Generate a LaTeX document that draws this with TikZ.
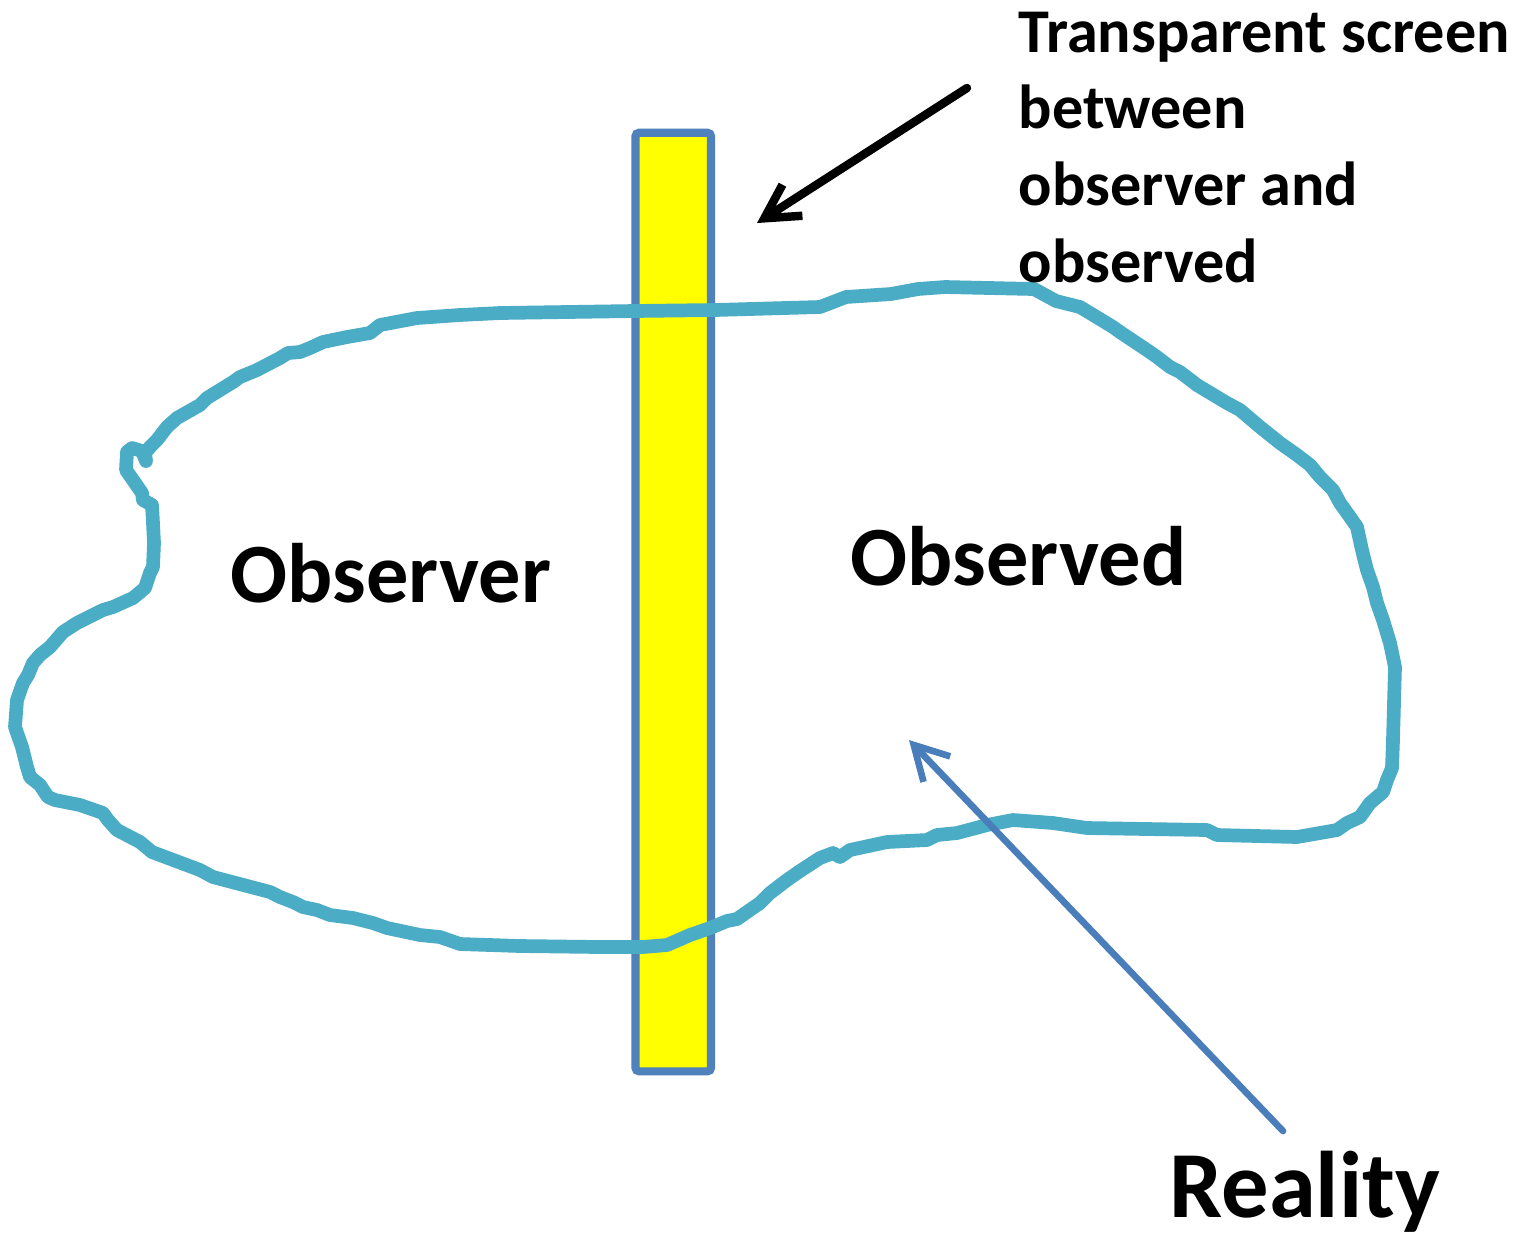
\documentclass[tikz,border=0pt]{standalone}
\usepackage{fontspec}
\setmainfont{Carlito}
\usetikzlibrary{arrows.meta}
\definecolor{blobc}{HTML}{4BACC6}
\definecolor{edgeblue}{HTML}{4F81BD}
\definecolor{arrblue}{HTML}{4A7EBB}
\definecolor{screenyellow}{RGB}{255,255,0}
\begin{document}
\begin{tikzpicture}[x=0.01cm,y=-0.01cm,
  screenbox/.style={draw=edgeblue, fill=screenyellow, line width=2.3pt, rounded corners=1pt, inner sep=0pt,
    minimum width=0.755cm, minimum height=9.38cm},
  blobline/.style={draw=blobc, line width=3.9pt, line join=round, line cap=round},
  biglbl/.style={font=\bfseries\fontsize{24pt}{29pt}\selectfont, inner sep=0pt, anchor=base west},
  notelbl/.style={font=\bfseries\fontsize{17.7pt}{21.8pt}\selectfont, inner sep=0pt, anchor=base west, align=left},
  ptr/.style={-{Straight Barb[length=9.5pt,width=10.5pt]}, line cap=round, line join=round}]
\useasboundingbox (0,0) rectangle (1527,1232);
\fill[white] (0,0) rectangle (1527,1232);

% transparent screen
\node[screenbox] (screen) at (673.25,602) {};

% reality outline
\draw[blobline] (145,453) -- (150,447) -- (157,440) -- (167,427) -- (177,418) -- (200,405) -- (207,398)
 -- (233,382) -- (240,377) -- (257,370) -- (280,358) -- (288,353) -- (300,352) -- (310,348) -- (323,342)
 -- (347,337) -- (370,333) -- (380,325) -- (417,318) -- (460,315) -- (500,313) -- (634,311) -- (715,310)
 -- (820,307) -- (846,297) -- (891,294) -- (918,289) -- (945,287) -- (1034,289) -- (1056,301) -- (1080,307)
 -- (1113,327) -- (1120,332) -- (1147,350) -- (1157,357) -- (1170,367) -- (1180,372) -- (1197,385)
 -- (1227,403) -- (1240,410) -- (1260,427) -- (1280,443) -- (1297,455) -- (1310,465) -- (1320,477)
 -- (1333,490) -- (1340,503) -- (1350,517) -- (1357,527) -- (1362,550) -- (1367,570) -- (1373,587)
 -- (1377,603) -- (1383,620) -- (1390,643) -- (1395,667) -- (1393,740) -- (1392,768) -- (1387,780)
 -- (1383,792) -- (1370,803) -- (1360,817) -- (1347,823) -- (1337,830) -- (1297,837) -- (1217,835)
 -- (1207,830) -- (1087,828) -- (1053,823) -- (1013,820) -- (987,825) -- (957,833) -- (937,835)
 -- (927,840) -- (887,842) -- (850,850) -- (840,857) -- (833,853) -- (820,858) -- (800,871) -- (787,880)
 -- (770,893) -- (760,903) -- (747,912) -- (737,919) -- (727,921) -- (710,928) -- (690,935) -- (667,945)
 -- (643,947) -- (600,947) -- (520,946) -- (460,944) -- (440,937) -- (420,935) -- (387,928) -- (373,923)
 -- (353,918) -- (330,915) -- (317,910) -- (303,907) -- (293,902) -- (280,897) -- (270,892) -- (213,877)
 -- (200,870) -- (152,852) -- (140,842) -- (117,830) -- (108,820) -- (103,813) -- (80,805) -- (55,800)
 -- (48,797) -- (40,785) -- (30,777) -- (27,767) -- (22,747) -- (15,727) -- (17,700) -- (23,683)
 -- (28,675) -- (33,663) -- (40,655) -- (50,647) -- (63,632) -- (77,623) -- (87,618) -- (103,610)
 -- (113,607) -- (133,598) -- (145,588) -- (150,573) -- (153,567) -- (154,543) -- (153,523) -- (152,505)
 -- (143,500) -- (142,493) -- (133,480) -- (126,470) -- (127,452) -- (132,448) -- (142,451) -- (146,461)
 -- cycle;

% labels
\node[biglbl] (observer) at (230,602) {Observer};
\node[biglbl] (observed) at (850,585) {Observed};
\node[biglbl, font=\bfseries\fontsize{26.9pt}{32pt}\selectfont] (reality) at (1169,1217) {Reality};
\node[notelbl] (note) at (1018,282) {Transparent screen\\between\\observer and\\observed};

% pointers
\coordinate (scrtail) at (967,88);
\coordinate (scrtip) at (757,223);
\coordinate (realtail) at (1283,1131);
\coordinate (realtip) at (909,740);
\draw[ptr, line width=2.4pt, black] (scrtail) -- (scrtip);
\draw[ptr, line width=1.9pt, arrblue] (realtail) -- (realtip);
\end{tikzpicture}
\end{document}
